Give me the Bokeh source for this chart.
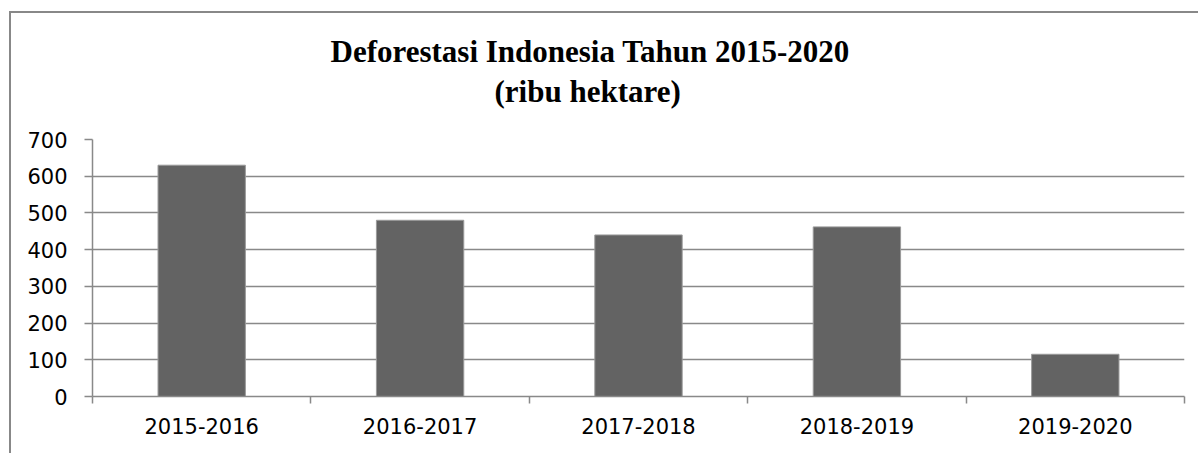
from bokeh.plotting import figure
from bokeh.models import FixedTicker, Range1d, Title
from bokeh.embed import file_html
from bokeh.resources import INLINE

periods = ["2015-2016", "2016-2017", "2017-2018", "2018-2019", "2019-2020"]
deforestation = [630, 480, 440, 462, 115]
y_ticks = [0, 100, 200, 300, 400, 500, 600, 700]
title_lines = ["Deforestasi Indonesia Tahun 2015-2020", "(ribu hektare)"]

x_centers = [i + 0.5 for i in range(len(periods))]

p = figure(width=1189, height=442, output_backend="svg", toolbar_location=None,
           x_range=Range1d(0, len(periods)), y_range=Range1d(0, 700),
           min_border_left=81, min_border_right=16, min_border_top=126, min_border_bottom=59)
p.styles = {"border-left": "2px solid #888888", "border-top": "2px solid #888888",
            "margin-left": "9px", "margin-top": "11px"}

p.title.visible = False
spacer = Title(text=" ", text_font_size="1px", standoff=18)
t2 = Title(text=title_lines[1], align="left", text_font="Liberation Serif",
           text_font_style="bold", text_font_size="31px", text_color="#000000",
           standoff=20, offset=402)
t1 = Title(text=title_lines[0], align="left", text_font="Liberation Serif",
           text_font_style="bold", text_font_size="31px", text_color="#000000",
           standoff=-15, offset=238)
p.add_layout(spacer, "above")
p.add_layout(t2, "above")
p.add_layout(t1, "above")

p.vbar(x=x_centers, top=deforestation, width=0.4, bottom=0,
       fill_color="#636363", line_color="#9a9a9a", line_width=1)

p.outline_line_color = None
p.xgrid.grid_line_color = None
p.ygrid.grid_line_color = "#898989"
p.ygrid.grid_line_width = 1.5
p.ygrid.ticker = FixedTicker(ticks=y_ticks)

p.yaxis.ticker = FixedTicker(ticks=y_ticks)
p.yaxis.axis_line_color = "#898989"
p.yaxis.axis_line_width = 1.5
p.yaxis.major_tick_line_color = "#898989"
p.yaxis.major_tick_line_width = 1.5
p.yaxis.major_tick_out = 8
p.yaxis.major_tick_in = 0
p.yaxis.minor_tick_line_color = None
p.yaxis.major_label_text_font = "DejaVu Sans"
p.yaxis.major_label_text_font_size = "21px"
p.yaxis.major_label_text_color = "#000000"
p.yaxis.major_label_standoff = 17

p.xaxis.ticker = FixedTicker(ticks=x_centers, minor_ticks=list(range(len(periods) + 1)))
p.xaxis.major_label_overrides = {c: lab for c, lab in zip(x_centers, periods)}
p.xaxis.axis_line_color = "#898989"
p.xaxis.axis_line_width = 1.5
p.xaxis.major_tick_line_color = None
p.xaxis.minor_tick_line_color = "#898989"
p.xaxis.minor_tick_line_width = 1.5
p.xaxis.minor_tick_out = 7
p.xaxis.minor_tick_in = 0
p.xaxis.major_label_text_font = "DejaVu Sans"
p.xaxis.major_label_text_font_size = "21px"
p.xaxis.major_label_text_color = "#000000"
p.xaxis.major_label_standoff = 14

open("out.html", "w").write(file_html(p, INLINE))
